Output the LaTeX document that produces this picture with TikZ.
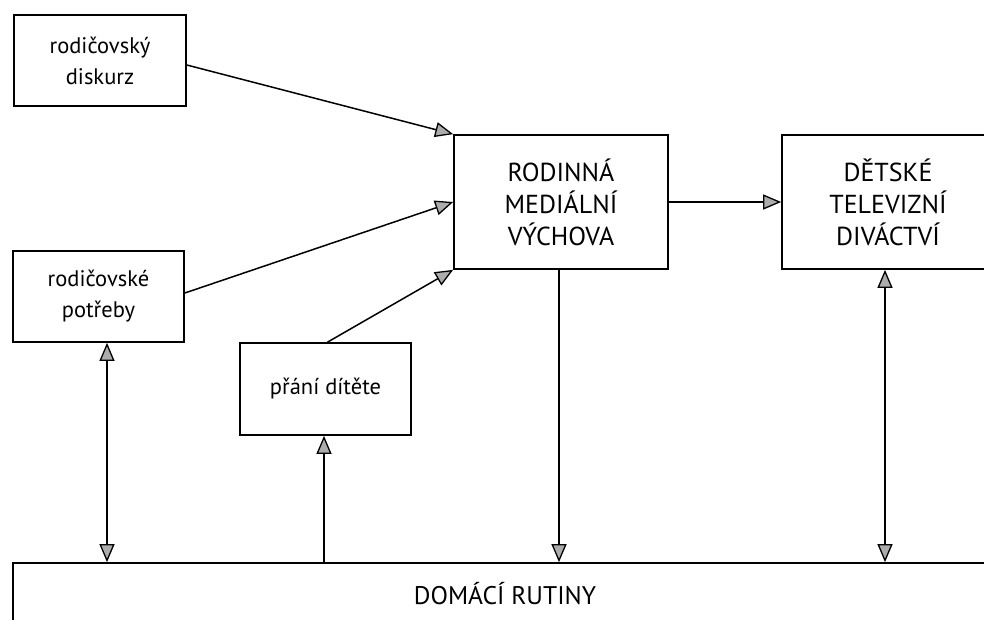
\documentclass[tikz,border=0pt]{standalone}
\usepackage{fontspec}
\setmainfont{PT Sans}
\usetikzlibrary{arrows.meta}
\begin{document}
\begin{tikzpicture}[x=1pt,y=-1pt,
  box/.style={draw=black, line width=1.7pt, rectangle, inner sep=0pt, align=center},
  smallbox/.style={box, minimum width=172pt, minimum height=91pt, font=\fontsize{22.5}{31}\selectfont},
  bigbox/.style={box, minimum height=134pt, font=\fontsize{26}{32}\selectfont},
  tip/.tip={Triangle[length=18pt, width=15pt, fill=gray!65, line width=1.3pt]},
  conn/.style={draw=black, line width=1.5pt},
  oneway/.style={conn, -tip},
  twoway/.style={conn, tip-tip}]
\useasboundingbox (0,0) rectangle (984,619);
\fill[white] (0,0) rectangle (984,619);

\node[smallbox] (A) at (100,60.5) {rodičovský\\diskurz};
\node[smallbox, minimum width=171pt, minimum height=91pt] (B) at (98.5,296.5) {rodičovské\\potřeby};
\node[smallbox, minimum width=171pt, minimum height=92pt] (C) at (325.5,389) {přání dítěte};
\node[bigbox, minimum width=214pt] (M) at (561,202) {RODINNÁ\\MEDIÁLNÍ\\VÝCHOVA};
\node[bigbox, minimum width=212pt] (D) at (888,202) {DĚTSKÉ\\TELEVIZNÍ\\DIVÁCTVÍ};
\node[box, minimum width=984pt, minimum height=64pt, text height=18pt, text depth=0pt,
      font=\fontsize{25.5}{32}\selectfont] (R) at (505,595) {DOMÁCÍ RUTINY};

\draw[oneway] ([yshift=-4.5pt]A.east) -- (M.north west);
\draw[oneway] ([yshift=3.5pt]B.east) -- (M.west);
\draw[oneway] ([xshift=2pt]C.north) -- (M.south west);
\draw[oneway] (M.east) -- (D.west);
\draw[oneway] (M.south -| 559,0) -- (R.north -| 559,0);
\draw[twoway] (B.south -| 107,0) -- (R.north -| 107,0);
\draw[oneway] (R.north -| 324,0) -- (C.south -| 324,0);
\draw[twoway] (D.south -| 885,0) -- (R.north -| 885,0);
\end{tikzpicture}
\end{document}
